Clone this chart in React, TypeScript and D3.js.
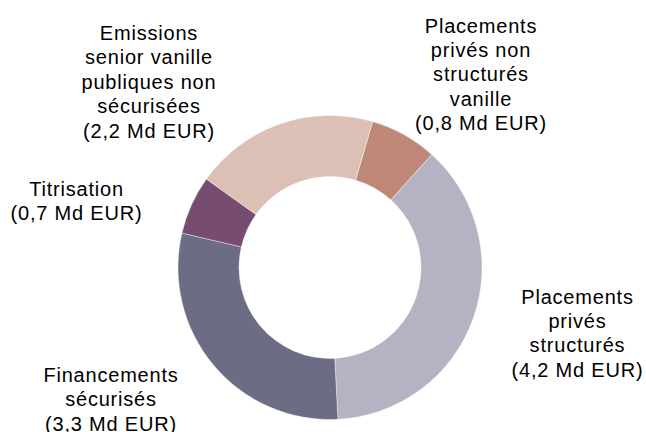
import React from "react";
import * as d3 from "d3";

const categories = [
  "Placements privés non structurés vanille",
  "Placements privés structurés",
  "Financements sécurisés",
  "Titrisation",
  "Emissions senior vanille publiques non sécurisées",
];
const values = [0.8, 4.2, 3.3, 0.7, 2.2];
const colors = ["#BF8778", "#B3B3C3", "#6C6C85", "#764D6E", "#DCBFB5"];
const labelLines = [
  ["Placements", "privés non", "structurés", "vanille"],
  ["Placements", "privés", "structurés"],
  ["Financements", "sécurisés"],
  ["Titrisation"],
  ["Emissions", "senior vanille", "publiques non", "sécurisées"],
];
const unit = "Md EUR";

export default function App() {
  const W = 646;
  const H = 432;
  const cx = 330;
  const cy = 267.5;
  const outerR = 152;
  const innerR = 91;
  const start = (16.3 * Math.PI) / 180;

  const pie = d3
    .pie<number>()
    .sort(null)
    .value((d) => d)
    .startAngle(start)
    .endAngle(start + 2 * Math.PI);
  const arcs = pie(values);
  const arc = d3.arc<d3.PieArcDatum<number>>().innerRadius(innerR).outerRadius(outerR);
  const fmt = (v: number) => d3.format(".1f")(v).replace(".", ",");

  // label anchors: center x, first baseline y
  const labelPos = [
    { x: 481, y: 32.5 },
    { x: 577.5, y: 303.5 },
    { x: 111, y: 382 },
    { x: 76.5, y: 196 },
    { x: 149, y: 40 },
  ];
  const lh = 24.4;

  return (
    <svg
      width={W}
      height={H}
      style={{ position: "absolute", left: 0, top: 0, display: "block", background: "#fff" }}
    >
      <g transform={`translate(${cx},${cy})`}>
        {arcs.map((a, i) => (
          <path key={i} d={arc(a) || ""} fill={colors[i]} stroke="#fff" strokeWidth={0.4} />
        ))}
      </g>
      {categories.map((c, i) => {
        const lines = [...labelLines[i], `(${fmt(values[i])} ${unit})`];
        return (
          <text
            key={c}
            x={labelPos[i].x}
            y={labelPos[i].y}
            textAnchor="middle"
            fontFamily="'Liberation Sans', Arial, sans-serif"
            fontSize={20}
            letterSpacing={0.8}
            fill="#000"
          >
            {lines.map((l, j) => (
              <tspan key={j} x={labelPos[i].x} y={labelPos[i].y + j * lh}>
                {l}
              </tspan>
            ))}
          </text>
        );
      })}
    </svg>
  );
}
